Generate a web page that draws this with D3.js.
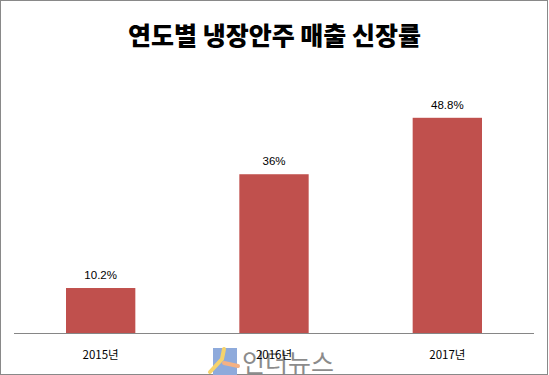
<!DOCTYPE html>
<html><head><meta charset="utf-8">
<script src="https://cdn.jsdelivr.net/npm/d3@7"></script>
<style>
html,body{margin:0;padding:0;background:#fff;}
svg{display:block;}
</style></head>
<body>
<svg id="chart" width="549" height="375"></svg>
<script>
const title = "연도별 냉장안주 매출 신장률";
const categories = ["2015년", "2016년", "2017년"];
const values = [10.2, 36, 48.8];
const valueLabels = ["10.2%", "36%", "48.8%"];
const watermark = "인더뉴스";

const W = 549, H = 375;
const svg = d3.select("#chart");
const font = "'Noto Sans CJK KR','Noto Sans',sans-serif";

// frame
svg.append("rect").attr("x",0.5).attr("y",0.5).attr("width",W-2).attr("height",H-1)
  .attr("fill","#fff").attr("stroke","#898989").attr("stroke-width",1);

const plot = {left:14, right:534, top:68.4, bottom:333};
const x = d3.scaleBand().domain(categories).range([plot.left, plot.right])
  .paddingInner(0.6).paddingOuter(0.3);
const y = d3.scaleLinear().domain([0, 60]).range([plot.bottom, plot.top]);

svg.append("text").attr("x", W/2).attr("y", 34)
  .attr("text-anchor","middle").attr("dominant-baseline","central")
  .attr("font-family", font).attr("font-weight",900).attr("font-size",25)
  .attr("fill","#000").text(title);

svg.selectAll("rect.bar").data(values).join("rect").attr("class","bar")
  .attr("x",(d,i)=>x(categories[i])).attr("width",x.bandwidth())
  .attr("y",d=>y(d)).attr("height",d=>y(0)-y(d)).attr("fill","#c0504d");

svg.selectAll("text.val").data(values).join("text").attr("class","val")
  .attr("x",(d,i)=>x(categories[i])+x.bandwidth()/2).attr("y",d=>y(d)-13)
  .attr("text-anchor","middle").attr("dominant-baseline","central")
  .attr("font-family","'Liberation Sans',Arial,sans-serif").attr("font-size",11.5)
  .attr("fill","#000").text((d,i)=>valueLabels[i]);

const axis = svg.append("g").attr("transform",`translate(0,${plot.bottom})`)
  .call(d3.axisBottom(x).tickSize(0).tickPadding(0));
axis.select(".domain").attr("stroke","#868686").attr("d",`M${plot.left},0.5H${plot.right}`);
axis.selectAll(".tick text").remove();

// watermark logo (decorative)
const wm = svg.append("g");
wm.append("rect").attr("x",213).attr("y",348).attr("width",24).attr("height",27).attr("fill","#8eaadb");
wm.append("path").attr("d","M224,349 L222,359 L210,372").attr("fill","none").attr("stroke","#f6d36b").attr("stroke-width",4).attr("stroke-linecap","round");
wm.append("path").attr("d","M224,363 L238,366").attr("fill","none").attr("stroke","#f4b183").attr("stroke-width",4).attr("stroke-linecap","round");
wm.append("text").attr("x",242).attr("y",372).attr("font-family",font).attr("font-size",25)
  .attr("fill","#7f7f7f").attr("opacity",0.9).text(watermark);

svg.selectAll("text.cat").data(categories).join("text").attr("class","cat")
  .attr("x",d=>x(d)+x.bandwidth()/2).attr("y",354)
  .attr("text-anchor","middle").attr("dominant-baseline","central")
  .attr("font-family",font).attr("font-size",11.5).attr("fill","#000").text(d=>d);
</script>
</body></html>
